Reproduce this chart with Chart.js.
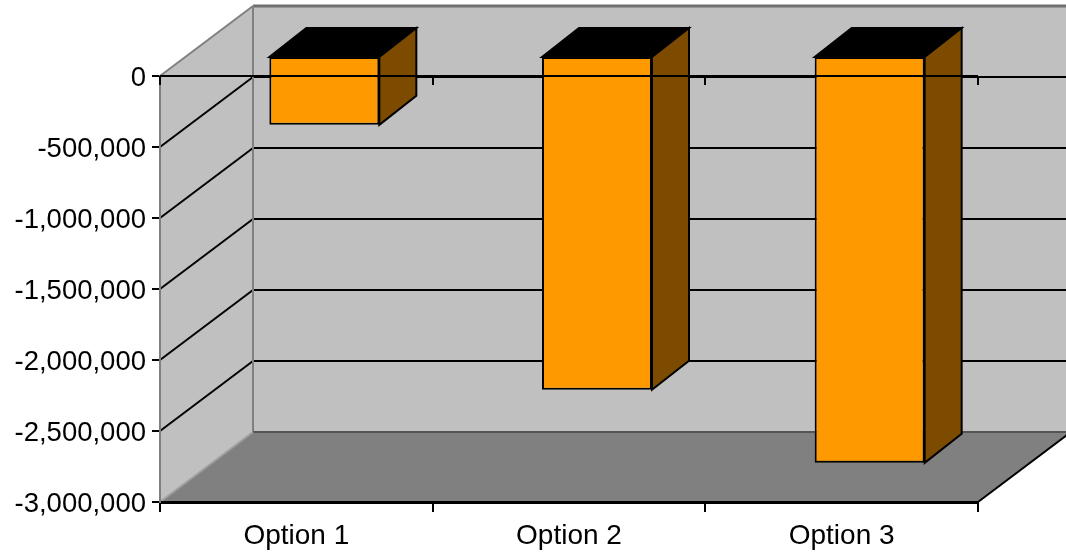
<!DOCTYPE html>
<html>
<head>
<meta charset="utf-8">
<script src="https://cdn.jsdelivr.net/npm/chart.js@4"></script>
<style>
  html, body { margin: 0; padding: 0; background: #ffffff; }
  #wrap { width: 1066px; height: 556px; position: relative; }
</style>
</head>
<body>
<div id="wrap"><canvas id="chart"></canvas></div>
<script>
// chart data
const categories = ['Option 1', 'Option 2', 'Option 3'];
const values = [-485000, -2350000, -2865000];
const yTickValues = [0, -500000, -1000000, -1500000, -2000000, -2500000, -3000000];

// 3d look: wall depth and bar depth offsets
const wall = { dx: 93, dy: -70 };
const bar3d = { x0: 28, y0: -20, dx: 37, dy: -29 };

function poly(ctx, pts, fill, stroke, lw) {
    ctx.beginPath();
    ctx.moveTo(pts[0][0], pts[0][1]);
    for (let i = 1; i < pts.length; i++) ctx.lineTo(pts[i][0], pts[i][1]);
    ctx.closePath();
    if (fill) { ctx.fillStyle = fill; ctx.fill(); }
    if (stroke) { ctx.strokeStyle = stroke; ctx.lineWidth = lw || 1; ctx.stroke(); }
}

function line(ctx, x1, y1, x2, y2, color, lw) {
    ctx.beginPath();
    ctx.moveTo(x1, y1);
    ctx.lineTo(x2, y2);
    ctx.strokeStyle = color;
    ctx.lineWidth = lw;
    ctx.stroke();
}

const box3d = {
    id: 'box3d',
    beforeDraw(chart) {
        const { ctx, chartArea: a, scales: { y } } = chart;
        const L = a.left, R = a.right, T = a.top, B = a.bottom;
        const dx = wall.dx, dy = wall.dy;
        ctx.save();
        // back wall, side wall, floor
        poly(ctx, [[L + dx, T + dy], [R + dx, T + dy], [R + dx, B + dy], [L + dx, B + dy]], '#c0c0c0');
        poly(ctx, [[L, T], [L + dx, T + dy], [L + dx, B + dy], [L, B]], '#c0c0c0');
        poly(ctx, [[L, B], [L + dx, B + dy], [R + dx, B + dy], [R, B]], '#808080');
        // gridlines on side and back walls
        yTickValues.forEach(v => {
            if (v === y.max || v === y.min) return;
            const py = y.getPixelForValue(v);
            line(ctx, L, py, L + dx, py + dy, '#000000', 2);
            line(ctx, L + dx, py + dy, R + dx, py + dy, '#000000', 2);
        });
        // wall edges
        line(ctx, L, T, L + dx, T + dy, '#808080', 2);
        line(ctx, L + dx, T + dy, R + dx, T + dy, '#707070', 3);
        line(ctx, L + dx, T + dy, L + dx, B + dy, '#808080', 2);
        line(ctx, L + dx, B + dy, R + dx, B + dy, '#555555', 2);
        line(ctx, L, B, L + dx, B + dy, '#a0a0a0', 2);
        line(ctx, R, B, R + dx, B + dy, '#000000', 2);
        ctx.restore();
    },
    beforeDatasetDraw(chart) {
        chart.ctx.save();
        chart.ctx.translate(bar3d.x0, bar3d.y0);
    },
    afterDatasetDraw(chart, args) {
        // top and side faces of each bar, from the bar element geometry
        const ctx = chart.ctx;
        args.meta.data.forEach(el => {
            const p = el.getProps(['x', 'y', 'base', 'width'], true);
            const left = p.x - p.width / 2, right = p.x + p.width / 2;
            const top = Math.min(p.y, p.base), bottom = Math.max(p.y, p.base);
            const bx = bar3d.dx, by = bar3d.dy;
            poly(ctx, [[left, top], [left + bx, top + by], [right + bx, top + by], [right, top]], '#000000', '#000000', 2);
            poly(ctx, [[right, top], [right + bx, top + by], [right + bx, bottom + by], [right, bottom]], '#7c4b00', '#000000', 2);
        });
        ctx.restore();
    },
    afterDatasetsDraw(chart) {
        // category axis at zero on the front plane, in front of the bars
        const { ctx, chartArea: a, scales: { y } } = chart;
        const y0 = y.getPixelForValue(0);
        const slot = (a.right - a.left) / categories.length;
        ctx.save();
        line(ctx, a.left, y0, a.right, y0, '#000000', 2);
        for (let i = 0; i <= categories.length; i++) {
            const px = Math.round(a.left + i * slot);
            line(ctx, px, y0, px, y0 + 9, '#000000', 2);
        }
        ctx.restore();
    }
};

const font = 'Liberation Sans, Arial, Helvetica, sans-serif';

new Chart(document.getElementById('chart'), {
    type: 'bar',
    data: {
        labels: categories,
        datasets: [{
            data: values,
            backgroundColor: '#ff9900',
            borderColor: '#000000',
            borderWidth: 2,
            borderSkipped: false,
            barPercentage: 0.4034,
            categoryPercentage: 1,
            clip: false
        }]
    },
    options: {
        responsive: true,
        maintainAspectRatio: false,
        animation: false,
        layout: { padding: { top: 76, right: 88, left: 0, bottom: 0 } },
        plugins: {
            legend: { display: false },
            tooltip: { enabled: false }
        },
        scales: {
            x: {
                afterFit: s => { s.height = 54; },
                grid: {
                    offset: true,
                    drawOnChartArea: false,
                    color: '#000000',
                    lineWidth: 2,
                    tickLength: 10
                },
                border: { color: '#000000', width: 3 },
                ticks: {
                    color: '#000000',
                    padding: 7,
                    font: { family: font, size: 28 }
                }
            },
            y: {
                min: -3000000,
                max: 0,
                afterFit: s => { s.width = 160; },
                afterBuildTicks: s => { s.ticks = yTickValues.map(v => ({ value: v })); },
                grid: {
                    drawOnChartArea: false,
                    color: '#000000',
                    lineWidth: 2,
                    tickLength: 8
                },
                border: { color: '#808080', width: 2 },
                ticks: {
                    color: '#000000',
                    padding: 6,
                    labelOffset: 2,
                    font: { family: font, size: 27.5 },
                    callback: v => v.toLocaleString('en-US')
                }
            }
        }
    },
    plugins: [box3d]
});
</script>
</body>
</html>
